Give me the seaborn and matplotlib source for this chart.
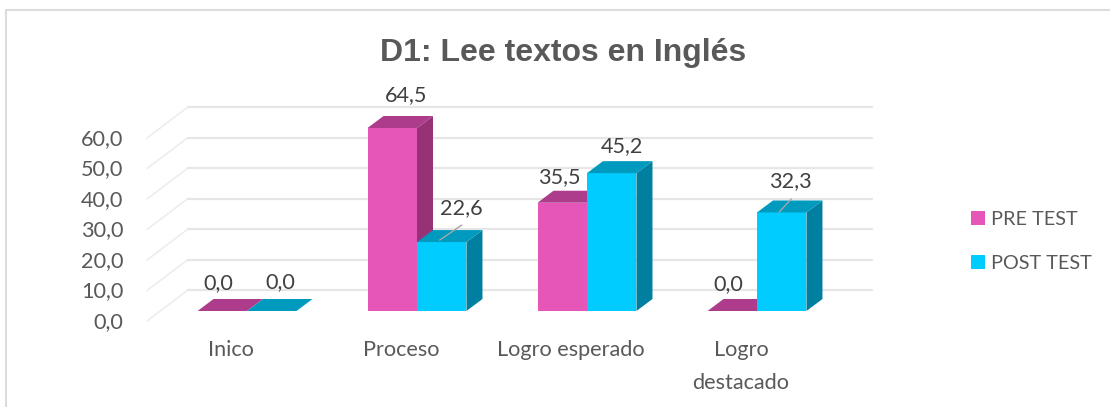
import matplotlib
matplotlib.use("Agg")
import matplotlib.pyplot as plt
from matplotlib.lines import Line2D
from matplotlib.patches import Polygon
from matplotlib.transforms import ScaledTranslation
import numpy as np
import pandas as pd
import seaborn as sns

categories = ["Inico", "Proceso", "Logro esperado", "Logro\ndestacado"]
pre_test = [0.0, 64.5, 35.5, 0.0]
post_test = [0.0, 22.6, 45.2, 32.3]
series_names = ["PRE TEST", "POST TEST"]
y_ticks = [0, 10, 20, 30, 40, 50, 60]
title = "D1: Lee textos en Inglés"

W, H = 1110, 407
FS = 15.6
sns.set_theme(style="white")
plt.rcParams["font.family"] = ["Lato", "DejaVu Sans"]

df = pd.DataFrame({
    "cat": categories * 2,
    "serie": [series_names[0]] * 4 + [series_names[1]] * 4,
    "val": pre_test + post_test,
})

front = ["#E655B8", "#00CCFF"]
side = ["#963275", "#007FA1"]
top = ["#AD3D8C", "#009ABF"]

fig = plt.figure(figsize=(W / 100, H / 100), dpi=100, facecolor="white")
ax = fig.add_axes([147 / W, 1 - 311 / H, 725 / W, 183 / H])
ax.patch.set_alpha(0)
sns.barplot(data=df, x="cat", y="val", hue="serie", order=categories,
            hue_order=series_names, palette=front, width=0.582, gap=0,
            saturation=1, linewidth=0, ax=ax, legend=True)
ax.set_xlim(-100 / 170, 625 / 170)
ax.set_ylim(0, 60)
sns.despine(ax=ax, left=True, bottom=True)
ax.set_xlabel("")
ax.set_ylabel("")

PX = 1 / 170       # data x per pixel
PY = 60 / 183      # data y per pixel
x0, x1 = ax.get_xlim()

# receding wall and its grid
for v in y_ticks:
    ax.plot([x0, x0 + 41 * PX], [v - 10 * PY, v + 21 * PY],
            color="#ececec", lw=1.1, clip_on=False, zorder=1)
    ax.plot([x0 + 41 * PX, x1], [v + 21 * PY, v + 21 * PY],
            color="#e6e6e6", lw=1.6, clip_on=False, zorder=1)

# depth faces of the bars
dx, dy = 16 * PX, 12 * PY
for s, cont in enumerate(ax.containers):
    for bar in cont:
        bar.set_zorder(2 + 2 * s)
        xa, xb = bar.get_x(), bar.get_x() + bar.get_width()
        h = min(bar.get_height(), 60)
        ax.add_patch(Polygon([(xb, 0), (xb + dx, dy), (xb + dx, h + dy), (xb, h)], closed=True,
                             fc=side[s], ec="none", clip_on=False, zorder=3 + 2 * s))
        ax.add_patch(Polygon([(xa, h), (xa + dx, h + dy), (xb + dx, h + dy), (xb, h)], closed=True,
                             fc=top[s], ec="none", clip_on=False, zorder=3 + 2 * s))

# data labels (pixel offset from the middle of each bar's front top edge)
offsets = [[(-3.5, 28), (13.5, 33), (-3, 26), (-4, 27)],
           [(8.5, 29), (20, 34), (10, 27), (8.5, 31)]]
leaders = {(1, 1): ((-2, 2), (20, 17)), (1, 3): ((-2.5, 0.5), (9.5, 13.5))}
for s, cont in enumerate(ax.containers):
    values = [pre_test, post_test][s]
    for i, bar in enumerate(cont):
        xc = bar.get_x() + bar.get_width() / 2
        h = min(bar.get_height(), 60)
        ox, oy = offsets[s][i]
        ax.annotate(f"{values[i]:.1f}".replace(".", ","), xy=(xc, h),
                    xytext=(ox * .72, oy * .72), textcoords="offset points",
                    ha="center", va="center", fontsize=FS, color="#404040",
                    annotation_clip=False, zorder=10)
        if (s, i) in leaders:
            (ax1, ay1), (ax2, ay2) = leaders[(s, i)]
            ax.plot([xc + ax1 * PX, xc + ax2 * PX], [h + ay1 * PY, h + ay2 * PY],
                    color="#a6a6a6", lw=1, clip_on=False, zorder=9)

# tick labels
ax.set_yticks(y_ticks, [f"{v:.1f}".replace(".", ",") for v in y_ticks])
ax.set_xticks(range(4), categories)
ax.tick_params(axis="both", length=0, labelsize=FS, labelcolor="#595959")
ax.tick_params(axis="y", pad=17)
ax.tick_params(axis="x", pad=21)
for lab in ax.get_yticklabels():
    lab.set_transform(lab.get_transform() + ScaledTranslation(0, -9 / 100, fig.dpi_scale_trans))
for lab in ax.get_xticklabels():
    lab.set_transform(lab.get_transform() + ScaledTranslation(-16 / 100, 0, fig.dpi_scale_trans))
    lab.set_linespacing(1.8)

# legend
leg = ax.legend(loc="upper left", bbox_to_anchor=(971 / W, 1 - 211 / H),
                bbox_transform=fig.transFigure, frameon=False, fontsize=14.3,
                handlelength=0.7, handleheight=0.7, handletextpad=0.32,
                labelspacing=1.34, borderpad=0, borderaxespad=0,
                labelcolor="#595959", title=None)

fig.text(563 / W, 1 - 53 / H, title, ha="center", va="center", fontsize=23,
         fontweight="bold", family="Liberation Sans", color="#595959")

# chart frame
frame = dict(color="#dcdcdc", lw=1.5, transform=fig.transFigure)
fig.add_artist(Line2D([6 / W, 6 / W], [0, 1 - 9.5 / H], **frame))
fig.add_artist(Line2D([6 / W, 1], [1 - 9.5 / H, 1 - 9.5 / H], **frame))

fig.savefig("out.png", dpi=100)
